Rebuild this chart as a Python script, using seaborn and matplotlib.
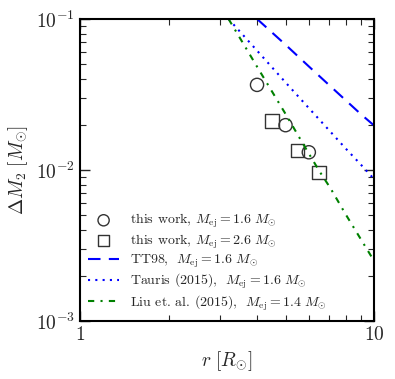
import numpy as np
import pandas as pd
import matplotlib
matplotlib.use("Agg")
import matplotlib.pyplot as plt
import seaborn as sns

# data
circ_r = [4.0, 5.0, 6.0]
circ_dm = [0.0366, 0.0198, 0.0131]
sq_r = [4.5, 5.5, 6.5]
sq_dm = [0.0211, 0.0134, 0.0096]

tt98_r = [4.0, 5.0, 6.0, 7.0, 8.0, 9.0, 10.0]
tt98_dm = [0.100, 0.0675, 0.0485, 0.0368, 0.0290, 0.0235, 0.0197]

tauris_r = [3.2, 4.0, 5.0, 6.0, 7.0, 8.0, 9.0, 10.0]
tauris_dm = [0.100, 0.0617, 0.0380, 0.0257, 0.0185, 0.0139, 0.0109, 0.0087]

liu_r = [3.2, 4.0, 5.0, 5.7, 6.5, 7.1, 8.0, 9.0, 10.0]
liu_dm = [0.100, 0.0483, 0.0235, 0.0152, 0.0099, 0.0076, 0.0051, 0.0035, 0.0025]

sns.set_style("ticks")
plt.rcParams["font.family"] = ["cmr10", "DejaVu Serif"]
plt.rcParams["mathtext.fontset"] = "cm"
plt.rcParams["axes.formatter.use_mathtext"] = True
plt.rcParams["axes.unicode_minus"] = False

fig = plt.figure(figsize=(3.95, 3.79), dpi=100)
ax = fig.add_axes([0.2025, 0.153, 0.7445, 0.797])

sns.lineplot(x=tt98_r, y=tt98_dm, ax=ax, color="b", lw=1.5,
             label=r"TT98, $\ M_{\rm ej} = 1.6\ M_{\odot}$")
ax.lines[-1].set_dashes([6, 4])
sns.lineplot(x=tauris_r, y=tauris_dm, ax=ax, color="b", lw=1.5,
             label=r"Tauris (2015), $\ M_{\rm ej} = 1.6\ M_{\odot}$")
ax.lines[-1].set_dashes([1, 2.5])
sns.lineplot(x=liu_r, y=liu_dm, ax=ax, color="g", lw=1.5,
             label=r"Liu et. al. (2015), $\ M_{\rm ej} = 1.4\ M_{\odot}$")
ax.lines[-1].set_dashes([3, 3, 1, 3])

sns.scatterplot(x=circ_r, y=circ_dm, ax=ax, marker="o", s=90,
                facecolor="none", edgecolor="#333333", linewidth=1.0,
                label=r"this work, $M_{\rm ej} = 1.6\ M_{\odot}$")
sns.scatterplot(x=sq_r, y=sq_dm, ax=ax, marker="s", s=90,
                facecolor="none", edgecolor="#333333", linewidth=1.0,
                label=r"this work, $M_{\rm ej} = 2.6\ M_{\odot}$")

ax.set_xscale("log")
ax.set_yscale("log")
ax.set_xlim(1, 10)
ax.set_ylim(1e-3, 1e-1)
ax.set_xlabel(r"$r\ [R_{\odot}]$", fontsize=14)
ax.set_ylabel(r"$\Delta M_2\ [M_{\odot}]$", fontsize=14)
ax.xaxis.set_major_formatter(matplotlib.ticker.FuncFormatter(
    lambda v, p: r"$%d$" % round(v)))
ax.xaxis.set_minor_formatter(matplotlib.ticker.NullFormatter())
ax.tick_params(which="both", direction="in", top=True, right=True, labelsize=14)
ax.tick_params(which="major", length=7, width=1)
ax.tick_params(which="minor", length=4, width=0.8)
for s in ax.spines.values():
    s.set_linewidth(1.5)
    s.set_color("black")

handles, labels = ax.get_legend_handles_labels()
order = [3, 4, 0, 1, 2]
ax.legend([handles[i] for i in order], [labels[i] for i in order],
          loc="lower left", frameon=False, fontsize=10, handlelength=2.2,
          borderaxespad=0.2, labelspacing=0.15, markerscale=0.85)

fig.savefig("out.png", dpi=100)
